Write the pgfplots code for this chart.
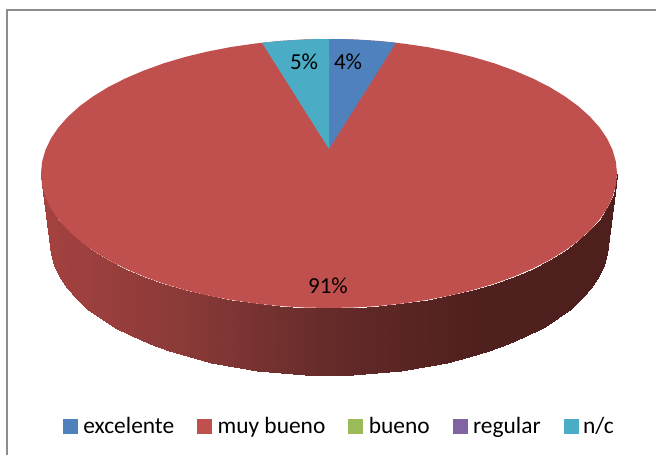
\documentclass[border=0pt]{standalone}
\usepackage{pgfplots}
\pgfplotsset{compat=1.18}
\usepackage{fontspec}
\setmainfont{Carlito}
\definecolor{cblue}{HTML}{4F81BD}
\definecolor{cred}{HTML}{C0504D}
\definecolor{cgreen}{HTML}{9BBB59}
\definecolor{cpurple}{HTML}{8064A2}
\definecolor{cteal}{HTML}{4BACC6}
\begin{document}
\begin{tikzpicture}
\useasboundingbox (0,0) rectangle (656bp,455bp);
\begin{axis}[
  at={(0,0)},anchor=south west,
  scale only axis,width=656bp,height=455bp,
  xmin=0,xmax=656,ymin=0,ymax=455,y dir=reverse,
  hide axis,clip=false,
  colormap={side}{rgb255=(165,66,64) rgb255=(138,58,56) rgb255=(100,43,41) rgb255=(80,32,30) rgb255=(78,31,29)},
  point meta min=41,point meta max=617,
  legend columns=5,
  legend cell align=left,
  legend style={draw=none,fill=none,at={(axis cs:63,426)},anchor=west,
    inner sep=0pt,outer sep=0pt,
    font=\fontsize{23.5}{26}\selectfont,
    /tikz/every even column/.append style={column sep=23bp},
    nodes={inner sep=0pt,outer sep=0pt}},
  legend image code/.code={\fill[#1] (0bp,-7bp) rectangle (14bp,7bp);},
]
% frame
\addplot[forget plot,draw=black!45,line width=1.5pt] coordinates {(7,455) (7,10) (656,10)};
% side of the pie
\addplot[forget plot,surf,shader=interp,mesh/rows=2,mesh/cols=37,point meta=x] table {
x y
41 173.5
42.1 185.2
45.4 196.9
50.8 208.3
58.4 219.5
68 230.3
79.6 240.75
93.1 250.6
108.4 260
125.4 268.6
143.9 276.5
163.8 283.7
185 290
207.3 295.4
230.5 299.9
254.5 303.4
279 306
303.9 307.5
329 308
354.1 307.5
379 306
403.5 303.4
427.5 299.9
450.7 295.4
473 290
494.2 283.7
514.1 276.5
532.6 268.6
549.6 260
564.9 250.6
578.4 240.75
590 230.3
599.6 219.5
607.2 208.3
612.6 196.9
615.9 185.2
617 173.5
50 242
51.1 253.6
54.2 265.1
59.5 276.4
66.8 287.5
76.1 298.2
87.4 308.5
100.5 318.3
115.3 327.5
131.7 336
149.7 343.9
169 350.9
189.5 357.2
211.1 362.5
233.6 367
256.8 370.5
280.6 373
304.7 374.5
329 375
353.3 374.5
377.4 373
401.2 370.5
424.4 367
446.9 362.5
468.5 357.2
489 350.9
508.3 343.9
526.3 336
542.7 327.5
557.5 318.3
570.6 308.5
581.9 298.2
591.2 287.5
598.5 276.4
603.8 265.1
606.9 253.6
608 242
};
% top: muy bueno 91%
\addplot[forget plot,fill=cred,draw=none] coordinates {
(41,173.5) (42.1,161.8) (45.4,150.1) (50.8,138.7) (58.4,127.5) (68,116.7) (79.6,106.25) (93.1,96.4) (108.4,87) (125.4,78.4) (143.9,70.5) (163.8,63.3) (185,57) (207.3,51.6) (230.5,47.1) (254.5,43.6) (279,41) (303.9,39.5) (329,39)
(354.1,39.5) (379,41) (403.5,43.6) (427.5,47.1) (450.7,51.6) (473,57) (494.2,63.3) (514.1,70.5) (532.6,78.4) (549.6,87) (564.9,96.4) (578.4,106.25) (590,116.7) (599.6,127.5) (607.2,138.7) (612.6,150.1) (615.9,161.8) (617,173.5)
(615.9,185.2) (612.6,196.9) (607.2,208.3) (599.6,219.5) (590,230.3) (578.4,240.75) (564.9,250.6) (549.6,260) (532.6,268.6) (514.1,276.5) (494.2,283.7) (473,290) (450.7,295.4) (427.5,299.9) (403.5,303.4) (379,306) (354.1,307.5) (329,308)
(303.9,307.5) (279,306) (254.5,303.4) (230.5,299.9) (207.3,295.4) (185,290) (163.8,283.7) (143.9,276.5) (125.4,268.6) (108.4,260) (93.1,250.6) (79.6,240.75) (68,230.3) (58.4,219.5) (50.8,208.3) (45.4,196.9) (42.1,185.2) (41,173.5)
} -- cycle;
% excelente 4%
\addplot[forget plot,fill=cblue,draw=none] coordinates {(329,149) (329,39) (345,39.2) (361,39.8) (378,41) (396,42.7)} -- cycle;
% n/c 5%
\addplot[forget plot,fill=cteal,draw=none] coordinates {(329,149) (329,39) (313,39.2) (296,39.9) (280,41) (262,42.7)} -- cycle;
\addlegendimage{cblue}\addlegendentry{\hspace{6bp}excelente}
\addlegendimage{cred}\addlegendentry{\hspace{6bp}muy bueno}
\addlegendimage{cgreen}\addlegendentry{\hspace{6bp}bueno}
\addlegendimage{cpurple}\addlegendentry{\hspace{6bp}regular}
\addlegendimage{cteal}\addlegendentry{\hspace{5bp}n/c}
\node[font=\fontsize{23}{26}\selectfont] at (axis cs:348,62) {4\%};
\node[font=\fontsize{23}{26}\selectfont] at (axis cs:304,62) {5\%};
\node[font=\fontsize{23}{26}\selectfont] at (axis cs:328,286) {91\%};
\end{axis}
\end{tikzpicture}
\end{document}
